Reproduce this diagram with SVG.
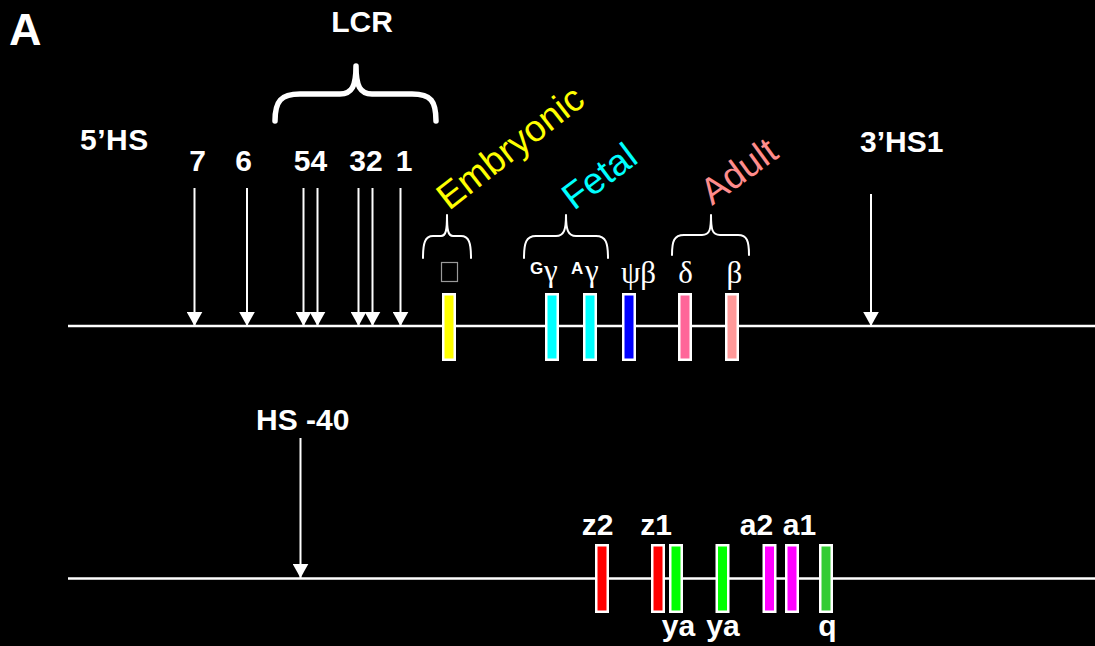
<svg xmlns="http://www.w3.org/2000/svg" width="1095" height="646" viewBox="0 0 1095 646">
  <style>
    .lbl { font-family: "Liberation Sans", Arial, sans-serif; font-weight: bold; fill: #fff; }
    .big { font-size: 30px; }
    .stage { font-family: "Liberation Sans", Arial, sans-serif; font-size: 37px; }
    .greek { font-family: "Liberation Serif", "Times New Roman", serif; font-size: 31px; fill: #fff; }
    .sup { font-family: "Liberation Sans", Arial, sans-serif; font-weight: bold; font-size: 17px; fill: #fff; }
    .chrom { stroke: #fff; stroke-width: 2.5; fill: none; }
    .hs { stroke: #fff; stroke-width: 2; fill: none; }
    .gene { stroke: #fff; stroke-width: 2.5; }
    .brace { stroke: #fff; fill: none; stroke-linecap: round; stroke-linejoin: round; }
  </style>
  <defs>
    <marker id="tri" markerUnits="userSpaceOnUse" markerWidth="16" markerHeight="16" refX="14" refY="8" orient="auto">
      <path d="M0,0.2 L14,8 L0,15.8 Z" fill="#fff"/>
    </marker>
  </defs>

  <rect x="0" y="0" width="1095" height="646" fill="#000"/>

  <text id="panel-label" class="lbl" x="9" y="45" font-size="45">A</text>

  <!-- chromosome backbones -->
  <g id="backbones">
    <line class="chrom" x1="68" y1="326" x2="1095" y2="326"/>
    <line class="chrom" x1="68" y1="578.5" x2="1095" y2="578.5"/>
  </g>

  <!-- hypersensitive-site arrows -->
  <g id="connectors">
    <line class="hs" x1="194.5" y1="188" x2="194.5" y2="326" marker-end="url(#tri)"/>
    <line class="hs" x1="247" y1="188" x2="247" y2="326" marker-end="url(#tri)"/>
    <line class="hs" x1="303.5" y1="188" x2="303.5" y2="326" marker-end="url(#tri)"/>
    <line class="hs" x1="317.5" y1="188" x2="317.5" y2="326" marker-end="url(#tri)"/>
    <line class="hs" x1="358.5" y1="188" x2="358.5" y2="326" marker-end="url(#tri)"/>
    <line class="hs" x1="372.5" y1="188" x2="372.5" y2="326" marker-end="url(#tri)"/>
    <line class="hs" x1="400.5" y1="188" x2="400.5" y2="326" marker-end="url(#tri)"/>
    <line class="hs" x1="871" y1="194" x2="871" y2="326" marker-end="url(#tri)"/>
    <line class="hs" x1="300.5" y1="438" x2="300.5" y2="578" marker-end="url(#tri)"/>
  </g>

  <!-- LCR -->
  <g id="lcr">
    <text class="lbl big" x="362" y="32" text-anchor="middle">LCR</text>
    <path class="brace" stroke-width="5.5" d="M275,121 C275,101 281,94 300,94 L340,94 C352,94 356,86 356,66 C356,86 360,94 372,94 L412,94 C431,94 436,101 436,121"/>
  </g>

  <g id="hs-5prime"><text class="lbl big" x="80" y="150" letter-spacing="0.5">5’HS</text></g>
  <g id="hs-numbers">
    <text class="lbl big" x="197.5" y="171" text-anchor="middle">7</text>
    <text class="lbl big" x="243.5" y="171" text-anchor="middle">6</text>
    <text class="lbl big" x="310.5" y="171" text-anchor="middle">54</text>
    <text class="lbl big" x="366" y="171" text-anchor="middle">32</text>
    <text class="lbl big" x="404" y="171" text-anchor="middle">1</text>
  </g>
  <g id="hs-3prime"><text class="lbl big" x="860" y="152">3’HS1</text></g>
  <g id="hs-40"><text class="lbl big" x="256" y="430">HS -40</text></g>

  <!-- developmental stage labels and braces -->
  <g id="embryonic">
    <text class="stage" fill="#ffff00" transform="translate(449,211) rotate(-38)">Embryonic</text>
    <path class="brace" stroke-width="2" d="M423,258 C423,243 425,236 433,236 L441,236 C446,236 447,230 447,215 C447,230 448,236 453,236 L461,236 C469,236 471,243 471,258"/>
  </g>
  <g id="fetal">
    <text class="stage" fill="#00ffff" transform="translate(574,211) rotate(-37)">Fetal</text>
    <path class="brace" stroke-width="2" d="M524,258 C524,243 526,236 536,236 L556,236 C564,236 566,230 566,215 C566,230 568,236 576,236 L596,236 C606,236 608,243 608,258"/>
  </g>
  <g id="adult">
    <text class="stage" fill="#ff8c8c" transform="translate(712,206) rotate(-36)">Adult</text>
    <path class="brace" stroke-width="2" d="M672,255 C672,241 674,235 684,235 L702,235 C710,235 711,229 711,215 C711,229 712,235 720,235 L738,235 C747,235 749,241 749,255"/>
  </g>

  <!-- beta-globin cluster genes -->
  <g id="gene-epsilon">
    <rect x="441.5" y="262.5" width="16" height="19" fill="none" stroke="#9a9a9a" stroke-width="1.2"/>
    <rect class="gene" x="443.25" y="294.25" width="11.5" height="65.5" fill="#ffff00"/>
  </g>
  <g id="gene-Ggamma">
    <text class="sup" x="530" y="274">G</text><text class="greek" x="544" y="281">γ</text>
    <rect class="gene" x="546.25" y="294.25" width="11.5" height="65.5" fill="#00ffff"/>
  </g>
  <g id="gene-Agamma">
    <text class="sup" x="571" y="274">A</text><text class="greek" x="585" y="281">γ</text>
    <rect class="gene" x="584.25" y="294.25" width="11.5" height="65.5" fill="#00ffff"/>
  </g>
  <g id="gene-psibeta">
    <text class="greek" x="638.5" y="283" text-anchor="middle">ψβ</text>
    <rect class="gene" x="623.25" y="294.25" width="11.5" height="65.5" fill="#0000ff"/>
  </g>
  <g id="gene-delta">
    <text class="greek" x="685.5" y="283" text-anchor="middle">δ</text>
    <rect class="gene" x="679.25" y="294.25" width="11.5" height="65.5" fill="#ff6699"/>
  </g>
  <g id="gene-beta">
    <text class="greek" x="734.5" y="283" text-anchor="middle">β</text>
    <rect class="gene" x="726.25" y="294.25" width="11.5" height="65.5" fill="#ff9999"/>
  </g>

  <!-- alpha-globin cluster genes -->
  <g id="gene-z2">
    <text class="lbl big" x="597.5" y="535" text-anchor="middle">z2</text>
    <rect class="gene" x="596.25" y="545.25" width="11.5" height="66.5" fill="#ff0000"/>
  </g>
  <g id="gene-z1">
    <text class="lbl big" x="656" y="535" text-anchor="middle">z1</text>
    <rect class="gene" x="652.25" y="545.25" width="11.5" height="66.5" fill="#ff0000"/>
  </g>
  <g id="gene-ya1">
    <text class="lbl big" x="678.5" y="636" text-anchor="middle">ya</text>
    <rect class="gene" x="670.25" y="545.25" width="11.5" height="66.5" fill="#00ff00"/>
  </g>
  <g id="gene-ya2">
    <text class="lbl big" x="723" y="636" text-anchor="middle">ya</text>
    <rect class="gene" x="716.75" y="545.25" width="11.5" height="66.5" fill="#00ff00"/>
  </g>
  <g id="gene-a2">
    <text class="lbl big" x="756.5" y="535" text-anchor="middle">a2</text>
    <rect class="gene" x="763.75" y="545.25" width="11.5" height="66.5" fill="#ff00ff"/>
  </g>
  <g id="gene-a1">
    <text class="lbl big" x="799.5" y="535" text-anchor="middle">a1</text>
    <rect class="gene" x="786.25" y="545.25" width="11.5" height="66.5" fill="#ff00ff"/>
  </g>
  <g id="gene-q">
    <text class="lbl big" x="827.5" y="636" text-anchor="middle">q</text>
    <rect class="gene" x="820.25" y="545.25" width="11.5" height="66.5" fill="#33cc33"/>
  </g>
</svg>
